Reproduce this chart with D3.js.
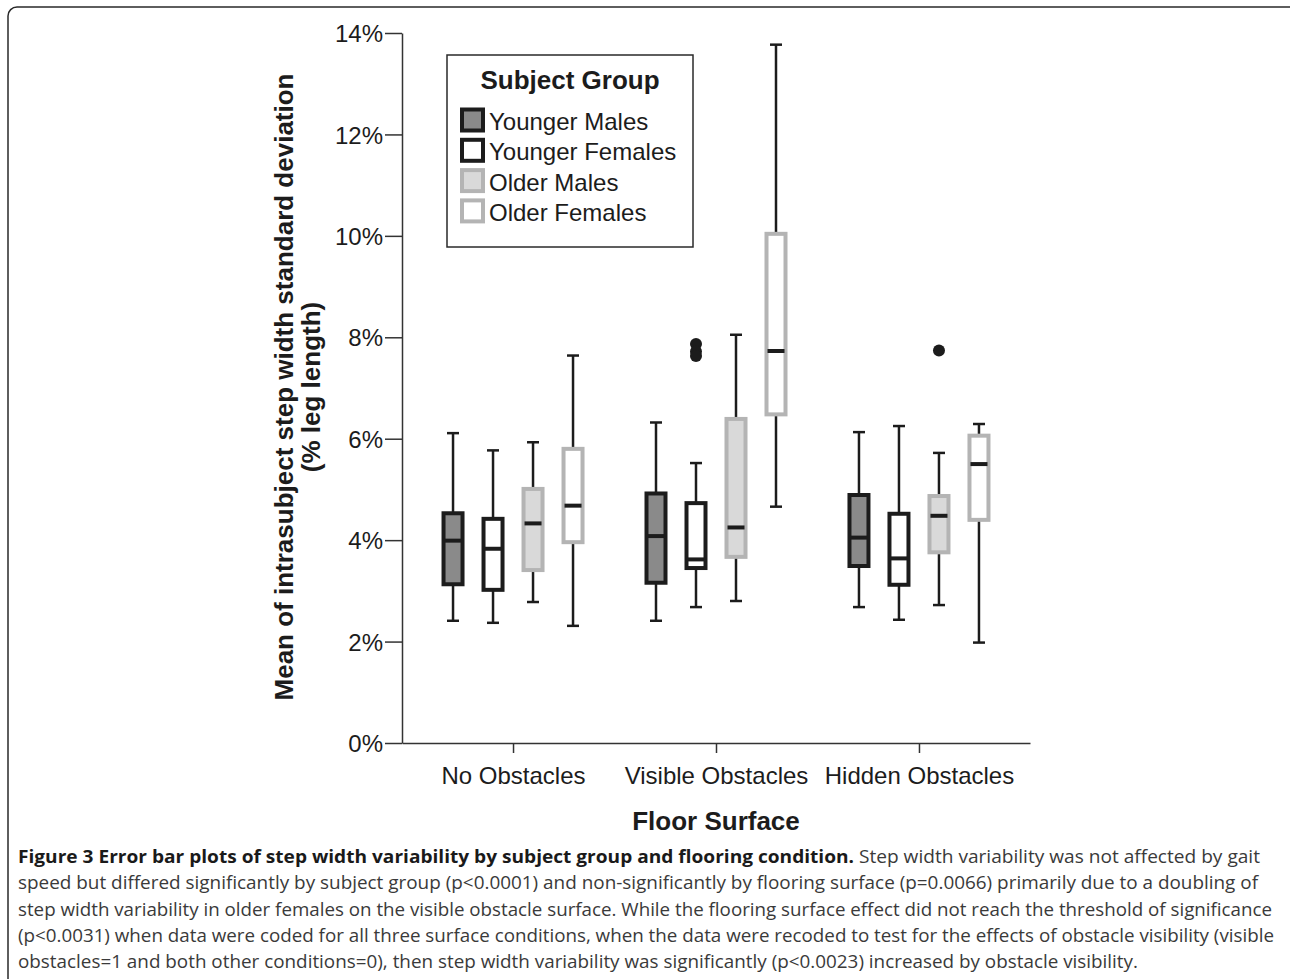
<!DOCTYPE html>
<html>
<head>
<meta charset="utf-8">
<script src="https://cdn.jsdelivr.net/npm/d3@7"></script>
<style>
  body { margin: 0; background: #fff; }
  svg { display: block; }
</style>
</head>
<body>
<svg id="chart" width="1290" height="979"></svg>
<script>
// --- data ---
const surfaces = ["No Obstacles", "Visible Obstacles", "Hidden Obstacles"];
const groups = ["Younger Males", "Younger Females", "Older Males", "Older Females"];
const yTicks = [0, 2, 4, 6, 8, 10, 12, 14];

// [whisker low, Q1, median, Q3, whisker high] in % leg length, per surface x group
const noObstacles = [
	[2.41, 3.13, 3.99, 4.53, 6.11],
	[2.37, 3.02, 3.83, 4.42, 5.77],
	[2.78, 3.41, 4.33, 5.01, 5.93],
	[2.31, 3.96, 4.68, 5.80, 7.64]
];
const visibleObstacles = [
	[2.41, 3.16, 4.08, 4.92, 6.32],
	[2.68, 3.45, 3.62, 4.73, 5.52],
	[2.80, 3.67, 4.25, 6.39, 8.05],
	[4.66, 6.48, 7.73, 10.04, 13.77]
];
const hiddenObstacles = [
	[2.68, 3.49, 4.05, 4.89, 6.13],
	[2.43, 3.12, 3.64, 4.52, 6.25],
	[2.72, 3.76, 4.48, 4.87, 5.72],
	[1.98, 4.40, 5.50, 6.06, 6.29]
];
// outliers: [surface, group, value]
const outliers = [
	["Visible Obstacles", "Younger Females", 7.87],
	["Visible Obstacles", "Younger Females", 7.72],
	["Visible Obstacles", "Younger Females", 7.63],
	["Hidden Obstacles", "Older Males", 7.74]
];

const fills = ["#8a8a8a", "#ffffff", "#d9d9d9", "#ffffff"];
const strokes = ["#1c1c1c", "#1c1c1c", "#b4b4b4", "#b4b4b4"];

const captionLines = [
	[["Figure 3 Error bar plots of step width variability by subject group and flooring condition.", true], [" Step width variability was not affected by gait", false]],
	[["speed but differed significantly by subject group (p<0.0001) and non-significantly by flooring surface (p=0.0066) primarily due to a doubling of", false]],
	[["step width variability in older females on the visible obstacle surface. While the flooring surface effect did not reach the threshold of significance", false]],
	[["(p<0.0031) when data were coded for all three surface conditions, when the data were recoded to test for the effects of obstacle visibility (visible", false]],
	[["obstacles=1 and both other conditions=0), then step width variability was significantly (p<0.0023) increased by obstacle visibility.", false]]
];
const captionWidths = [1242, 1240, 1254, 1256, 1120];

const stats = { "No Obstacles": noObstacles, "Visible Obstacles": visibleObstacles, "Hidden Obstacles": hiddenObstacles };

const svg = d3.select("#chart");
const ink = "#1c1c1c";
const font = "'Liberation Sans', Arial, sans-serif";

// outer frame
svg.append("rect")
	.attr("x", 8).attr("y", 7).attr("width", 1300).attr("height", 1010)
	.attr("rx", 9).attr("fill", "none").attr("stroke", "#2a2a2a").attr("stroke-width", 1.5);

const x = d3.scalePoint().domain(surfaces).range([402, 1030]).padding(0.547);
const xg = d3.scaleBand().domain(groups).range([-80, 80]);
const y = d3.scaleLinear().domain([0, 14]).range([743, 33]);

// axes
const yAxis = svg.append("g").attr("transform", "translate(402,0)")
	.call(d3.axisLeft(y).tickValues(yTicks).tickFormat(d => d + "%").tickSize(17).tickPadding(2).tickSizeOuter(0));
const xAxis = svg.append("g").attr("transform", "translate(0,743)")
	.call(d3.axisBottom(x).tickSize(10).tickPadding(14).tickSizeOuter(0));
[yAxis, xAxis].forEach(a => {
	a.select(".domain").attr("stroke", "#333").attr("stroke-width", 1.5);
	a.selectAll(".tick line").attr("stroke", "#333").attr("stroke-width", 1.5);
	a.selectAll(".tick text").attr("font-family", font).attr("font-size", "24px").attr("fill", ink);
});
yAxis.selectAll(".tick text").attr("dy", "0.36em");

// axis titles
svg.append("text")
	.attr("x", 716).attr("y", 830).attr("text-anchor", "middle")
	.attr("font-family", font).attr("font-size", "26px").attr("font-weight", "bold").attr("fill", ink)
	.text("Floor Surface");
const yt = svg.append("text")
	.attr("transform", "translate(0,387) rotate(-90)")
	.attr("text-anchor", "middle")
	.attr("font-family", font).attr("font-size", "26px").attr("font-weight", "bold").attr("fill", ink);
yt.append("tspan").attr("x", 0).attr("y", 293).text("Mean of intrasubject step width standard deviation");
yt.append("tspan").attr("x", 0).attr("y", 320).text("(% leg length)");

// boxes
const bw = 19, cap = 10;
const rows = [];
surfaces.forEach(s => groups.forEach((g, i) => {
	const [lo, q1, med, q3, hi] = stats[s][i];
	rows.push({ s, g, i, lo, q1, med, q3, hi });
}));
const plot = svg.append("g");
const bx = plot.selectAll("g.box").data(rows).join("g")
	.attr("class", "box")
	.attr("transform", d => `translate(${x(d.s) + xg(d.g) + xg.bandwidth() / 2},0)`);

bx.append("line").attr("x1", 0).attr("x2", 0)
	.attr("y1", d => y(d.hi)).attr("y2", d => y(d.q3))
	.attr("stroke", ink).attr("stroke-width", 2.5);
bx.append("line").attr("x1", 0).attr("x2", 0)
	.attr("y1", d => y(d.q1)).attr("y2", d => y(d.lo))
	.attr("stroke", ink).attr("stroke-width", 2.5);
bx.append("line").attr("x1", -cap / 2 - 1).attr("x2", cap / 2 + 1)
	.attr("y1", d => y(d.hi)).attr("y2", d => y(d.hi))
	.attr("stroke", ink).attr("stroke-width", 2.5);
bx.append("line").attr("x1", -cap / 2 - 1).attr("x2", cap / 2 + 1)
	.attr("y1", d => y(d.lo)).attr("y2", d => y(d.lo))
	.attr("stroke", ink).attr("stroke-width", 2.5);
bx.append("rect")
	.attr("x", -bw / 2).attr("width", bw)
	.attr("y", d => y(d.q3)).attr("height", d => y(d.q1) - y(d.q3))
	.attr("fill", d => fills[d.i]).attr("stroke", d => strokes[d.i]).attr("stroke-width", 4);
bx.append("line").attr("x1", -bw / 2 + 1).attr("x2", bw / 2 - 1)
	.attr("y1", d => y(d.med)).attr("y2", d => y(d.med))
	.attr("stroke", ink).attr("stroke-width", 4);

plot.selectAll("circle.out").data(outliers).join("circle")
	.attr("class", "out")
	.attr("cx", d => x(d[0]) + xg(d[1]) + xg.bandwidth() / 2)
	.attr("cy", d => y(d[2]))
	.attr("r", 6).attr("fill", ink);

// legend
const lg = svg.append("g").attr("transform", "translate(447,55)");
lg.append("rect").attr("width", 246).attr("height", 192)
	.attr("fill", "#fff").attr("stroke", "#2a2a2a").attr("stroke-width", 1.5);
lg.append("text").attr("x", 123).attr("y", 34).attr("text-anchor", "middle")
	.attr("font-family", font).attr("font-size", "26px").attr("font-weight", "bold").attr("fill", ink)
	.text("Subject Group");
const li = lg.selectAll("g.item").data(groups).join("g")
	.attr("class", "item")
	.attr("transform", (d, i) => `translate(0,${65 + i * 30.3})`);
li.append("rect").attr("x", 15).attr("y", -10.5).attr("width", 21).attr("height", 21)
	.attr("fill", (d, i) => fills[i]).attr("stroke", (d, i) => strokes[i]).attr("stroke-width", 4);
li.append("text").attr("x", 42).attr("y", 10)
	.attr("font-family", font).attr("font-size", "24px").attr("fill", ink)
	.text(d => d);

// caption
const cap0 = svg.append("g");
captionLines.forEach((parts, i) => {
	const t = cap0.append("text")
		.attr("x", 18).attr("y", 863 + i * 26.3)
		.attr("font-family", "'Open Sans', 'Noto Sans', sans-serif")
		.attr("font-size", "18px").attr("fill", "#3a3a3a")
		.attr("textLength", captionWidths[i]).attr("lengthAdjust", "spacingAndGlyphs");
	parts.forEach(([txt, bold]) => {
		t.append("tspan").attr("font-weight", bold ? "bold" : "normal")
			.attr("fill", bold ? "#1a1a1a" : "#3a3a3a").text(txt);
	});
});
</script>
</body>
</html>
